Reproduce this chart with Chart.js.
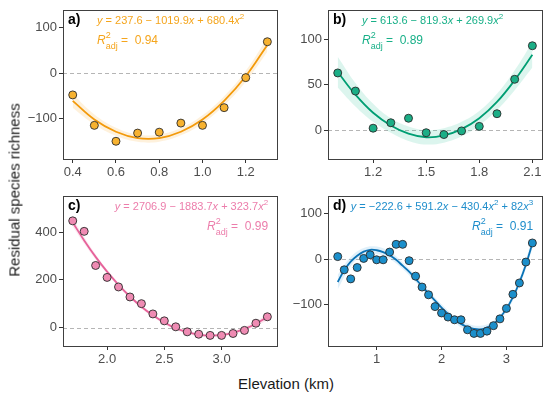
<!DOCTYPE html>
<html>
<head>
<meta charset="utf-8">
<script src="https://cdn.jsdelivr.net/npm/chart.js@4.4.1/dist/chart.umd.min.js"></script>
<style>
  body { margin: 0; background: #fff; }
  #wrap { position: relative; width: 550px; height: 395px; font-family: "Liberation Sans", Arial, sans-serif; }
  canvas { position: absolute; }
  .ytitle { position: absolute; left: 14px; top: 190px; transform: translate(-50%, -50%) rotate(-90deg); font-size: 15px; font-weight: normal; white-space: nowrap; color: #1a1a1a; }
  .xtitle { position: absolute; left: 286px; top: 383px; transform: translate(-50%, -50%); font-size: 15px; font-weight: normal; white-space: nowrap; color: #1a1a1a; }
</style>
</head>
<body>
<div id="wrap">
  <canvas id="pa" width="262" height="184" style="left:20px;top:0px"></canvas>
  <canvas id="pb" width="262" height="184" style="left:285px;top:0px"></canvas>
  <canvas id="pc" width="262" height="185" style="left:20px;top:186px"></canvas>
  <canvas id="pd" width="262" height="185" style="left:285px;top:186px"></canvas>
  <div class="ytitle">Residual species richness</div>
  <div class="xtitle">Elevation (km)</div>
</div>
<script>
// panel a
const aX = [0.4, 0.5, 0.6, 0.7, 0.8, 0.9, 1.0, 1.1, 1.2, 1.3];
const aY = [-48, -115, -150, -132, -130, -110, -115, -76, -10, 69];
const aFit = [-61, -102, -129, -143, -143, -129, -102, -61, -7, 62];
const aLow = [-76, -113, -138, -151, -151, -137, -111, -71, -19, 47];
const aUp = [-46, -91, -120, -135, -135, -121, -93, -51, 5, 77];
const aXTicks = [0.4, 0.6, 0.8, 1.0, 1.2];
const aXLabels = ["0.4", "0.6", "0.8", "1.0", "1.2"];
const aYTicks = [-100, 0, 100];
const aYLabels = ["\u2212100", "0", "100"];

// panel b
const bX = [1.0, 1.1, 1.2, 1.3, 1.4, 1.5, 1.6, 1.7, 1.8, 1.9, 2.0, 2.1];
const bY = [63, 43, 2, 8, 13, -3, -5, -1, 4, 18, 56, 93];
const bFit = [64, 39, 19, 5, -4, -8, -6, 1, 13, 31, 55, 83];
const bLow = [47, 26, 9, -3, -12, -16, -14, -7, 5, 22, 44, 69];
const bUp = [81, 52, 29, 13, 4, 0, 2, 9, 21, 40, 66, 97];
const bXTicks = [1.2, 1.5, 1.8, 2.1];
const bXLabels = ["1.2", "1.5", "1.8", "2.1"];
const bYTicks = [0, 50, 100];
const bYLabels = ["0", "50", "100"];

// panel c
const cX = [1.7, 1.8, 1.9, 2.0, 2.1, 2.2, 2.3, 2.4, 2.5, 2.6, 2.7, 2.8, 2.9, 3.0, 3.1, 3.2, 3.3, 3.4];
const cY = [447, 403, 260, 210, 170, 128, 100, 57, 28, 3, -18, -28, -33, -33, -25, -12, 18, 45];
const cFit = [440, 365, 296, 234, 179, 130, 87, 51, 21, -3, -19, -30, -34, -31, -22, -6, 16, 44];
const cLow = [422, 351, 285, 225, 171, 123, 80, 44, 14, -10, -26, -37, -41, -38, -29, -14, 6, 31];
const cUp = [458, 379, 307, 243, 187, 137, 94, 58, 28, 4, -12, -23, -27, -24, -15, 2, 26, 57];
const cXTicks = [2.0, 2.5, 3.0];
const cXLabels = ["2.0", "2.5", "3.0"];
const cYTicks = [0, 200, 400];
const cYLabels = ["0", "200", "400"];

// panel d
const dX = [0.4, 0.5, 0.6, 0.7, 0.8, 0.9, 1.0, 1.1, 1.2, 1.3, 1.4, 1.5, 1.6, 1.7, 1.8, 1.9, 2.0,
            2.1, 2.2, 2.3, 2.4, 2.5, 2.6, 2.7, 2.8, 2.9, 3.0, 3.1, 3.2, 3.3, 3.4];
const dY = [6, -23, -43, -18, 2, 10, -1, -1, 16, 33, 33, -3, -37, -61, -78, -104, -118,
            -127, -133, -133, -155, -163, -163, -158, -146, -131, -108, -77, -52, -6, 36];
const dFit = [-50, -24, -5, 8, 17, 21, 20, 16, 9, -1, -14, -27, -43, -59, -75, -91, -106,
              -120, -132, -142, -149, -153, -154, -150, -142, -128, -109, -83, -51, -12, 35];
const dBandX = [0.4, 0.6, 0.8, 1.0, 1.2, 1.4, 1.6, 1.8, 2.0, 2.2, 2.4, 2.6, 2.8, 3.0, 3.2, 3.4];
const dLow = [-66, -15, 9, 12, 1, -21, -50, -82, -113, -139, -157, -162, -149, -116, -59, 23];
const dUp = [-34, 5, 25, 28, 17, -7, -36, -68, -99, -125, -141, -146, -135, -102, -43, 47];
const dXTicks = [1, 2, 3];
const dXLabels = ["1", "2", "3"];
const dYTicks = [-100, 0, 100];
const dYLabels = ["\u2212100", "0", "100"];

const FF = '"Liberation Sans", Arial, sans-serif';
Chart.defaults.font.family = FF;

const pts = (xs, ys) => xs.map((x, i) => ({ x: x, y: ys[i] }));

function drawParts(ctx, parts, x, y, align, color, size) {
  const fontOf = p => (p.it ? "italic " : "") + ((p.sup || p.sub) ? Math.round(size * 0.75) : size) + "px " + FF;
  let total = 0;
  const adv = parts.map(p => {
    ctx.font = fontOf(p);
    const w = ctx.measureText(p.t).width;
    const a = p.stack ? 0 : w;
    total += a;
    return a;
  });
  let cx = align === "right" ? x - total : x;
  ctx.fillStyle = color;
  ctx.textAlign = "left";
  ctx.textBaseline = "alphabetic";
  parts.forEach((p, i) => {
    ctx.font = fontOf(p);
    let yy = y;
    if (p.sup) yy = y - size * 0.5;
    if (p.sub) yy = y + size * 0.4;
    ctx.fillText(p.t, cx, yy);
    cx += adv[i];
  });
}

function panelPlugin(p) {
  return {
    id: "panel_" + p.tag,
    beforeDatasetsDraw(chart) {
      const ctx = chart.ctx, ca = chart.chartArea;
      const y0 = Math.round(chart.scales.y.getPixelForValue(0)) + 0.5;
      ctx.save();
      ctx.strokeStyle = "#b5b5b5";
      ctx.lineWidth = 1;
      ctx.setLineDash([4, 3]);
      ctx.beginPath();
      ctx.moveTo(ca.left, y0);
      ctx.lineTo(ca.right, y0);
      ctx.stroke();
      ctx.restore();
    },
    afterDraw(chart) {
      const ctx = chart.ctx, ca = chart.chartArea;
      ctx.save();
      ctx.strokeStyle = "#404040";
      ctx.lineWidth = 1;
      ctx.strokeRect(Math.round(ca.left) + 0.5, Math.round(ca.top) + 0.5,
                     Math.round(ca.right - ca.left), Math.round(ca.bottom - ca.top));
      ctx.fillStyle = "#000";
      ctx.font = "bold 14px " + FF;
      ctx.textAlign = "left";
      ctx.fillText(p.tag + ")", ca.left + 5, ca.top + 14);
      const ex = p.align === "right" ? ca.right - 9 : ca.left + 34;
      drawParts(ctx, p.eq, ex, ca.top + 14.5, p.align, p.text, 11);
      drawParts(ctx, p.r2, ex, ca.top + 34, p.align, p.text, 12);
      ctx.restore();
    }
  };
}

function makePanel(id, p) {
  const lineBand = (data, fillTo) => ({
    type: "line", data: data, borderWidth: 0, pointRadius: 0, tension: 0.4,
    backgroundColor: p.band, fill: fillTo
  });
  new Chart(document.getElementById(id), {
    type: "scatter",
    data: {
      datasets: [
        { type: "scatter", data: pts(p.x, p.y), pointRadius: 4, pointHoverRadius: 4,
          backgroundColor: p.point, borderColor: "#2b2b2b", borderWidth: 0.9 },
        { type: "line", data: pts(p.x, p.fit), borderColor: p.line, borderWidth: 1.8,
          pointRadius: 0, tension: 0.4, fill: false },
        lineBand(pts(p.bandX, p.up), 3),
        lineBand(pts(p.bandX, p.low), false)
      ]
    },
    options: {
      responsive: false,
      animation: false,
      events: [],
      layout: { padding: { top: 8, right: 4, left: 0, bottom: 0 } },
      plugins: { legend: { display: false }, tooltip: { enabled: false } },
      scales: {
        x: {
          type: "linear", min: p.xr[0], max: p.xr[1],
          afterBuildTicks: s => { s.ticks = p.xt.map(v => ({ value: v })); },
          afterFit: s => { s.height = 25; },
          ticks: {
            autoSkip: false, maxRotation: 0, padding: 2, color: "#4d4d4d",
            font: { size: 13 },
            callback: (v, i) => p.xl[i]
          },
          grid: { drawOnChartArea: false, drawTicks: true, tickLength: 4, tickColor: "#333", tickWidth: 1 },
          border: { display: false }
        },
        y: {
          type: "linear", min: p.yr[0], max: p.yr[1],
          afterBuildTicks: s => { s.ticks = p.yt.map(v => ({ value: v })); },
          afterFit: s => { s.width = 43; },
          ticks: {
            autoSkip: false, padding: 2, color: "#4d4d4d",
            font: { size: 13 },
            callback: (v, i) => p.yl[i]
          },
          grid: { drawOnChartArea: false, drawTicks: true, tickLength: 4, tickColor: "#333", tickWidth: 1 },
          border: { display: false }
        }
      }
    },
    plugins: [panelPlugin(p)]
  });
}

makePanel("pa", {
  tag: "a", x: aX, y: aY, fit: aFit, bandX: aX, low: aLow, up: aUp,
  xt: aXTicks, xl: aXLabels, yt: aYTicks, yl: aYLabels,
  xr: [0.355, 1.345], yr: [-189, 139.3],
  line: "#f39a0b", point: "#f7b230", band: "rgba(250,190,95,0.22)", text: "#f5a51c",
  align: "left",
  eq: [{ t: "y", it: 1 }, { t: " = 237.6 \u2212 1019.9" }, { t: "x", it: 1 }, { t: " + 680.4" }, { t: "x", it: 1 }, { t: "2", sup: 1 }],
  r2: [{ t: "R", it: 1 }, { t: "2", sup: 1, stack: 1 }, { t: "adj", sub: 1 }, { t: " =  0.94" }]
});

makePanel("pb", {
  tag: "b", x: bX, y: bY, fit: bFit, bandX: bX, low: bLow, up: bUp,
  xt: bXTicks, xl: bXLabels, yt: bYTicks, yl: bYLabels,
  xr: [0.945, 2.155], yr: [-32, 132.7],
  line: "#009e73", point: "#1bae86", band: "rgba(60,200,160,0.18)", text: "#18b088",
  align: "left",
  eq: [{ t: "y", it: 1 }, { t: " = 613.6 \u2212 819.3" }, { t: "x", it: 1 }, { t: " + 269.9" }, { t: "x", it: 1 }, { t: "2", sup: 1 }],
  r2: [{ t: "R", it: 1 }, { t: "2", sup: 1, stack: 1 }, { t: "adj", sub: 1 }, { t: " =  0.89" }]
});

makePanel("pc", {
  tag: "c", x: cX, y: cY, fit: cFit, bandX: cX, low: cLow, up: cUp,
  xt: cXTicks, xl: cXLabels, yt: cYTicks, yl: cYLabels,
  xr: [1.615, 3.485], yr: [-77.4, 552],
  line: "#e6629a", point: "#ef8bb3", band: "rgba(240,140,180,0.2)", text: "#ec7dab",
  align: "right",
  eq: [{ t: "y", it: 1 }, { t: " = 2706.9 \u2212 1883.7" }, { t: "x", it: 1 }, { t: " + 323.7" }, { t: "x", it: 1 }, { t: "2", sup: 1 }],
  r2: [{ t: "R", it: 1 }, { t: "2", sup: 1, stack: 1 }, { t: "adj", sub: 1 }, { t: " =  0.99" }]
});

makePanel("pd", {
  tag: "d", x: dX, y: dY, fit: dFit, bandX: dBandX, low: dLow, up: dUp,
  xt: dXTicks, xl: dXLabels, yt: dYTicks, yl: dYLabels,
  xr: [0.25, 3.55], yr: [-190.7, 139.8],
  line: "#0a72b5", point: "#1b8fcb", band: "rgba(100,180,230,0.2)", text: "#1e8dcb",
  align: "right",
  eq: [{ t: "y", it: 1 }, { t: " = \u2212222.6 + 591.2" }, { t: "x", it: 1 }, { t: " \u2212 430.4" }, { t: "x", it: 1 }, { t: "2", sup: 1 },
       { t: " + 82" }, { t: "x", it: 1 }, { t: "3", sup: 1 }],
  r2: [{ t: "R", it: 1 }, { t: "2", sup: 1, stack: 1 }, { t: "adj", sub: 1 }, { t: " =  0.91" }]
});
</script>
</body>
</html>
